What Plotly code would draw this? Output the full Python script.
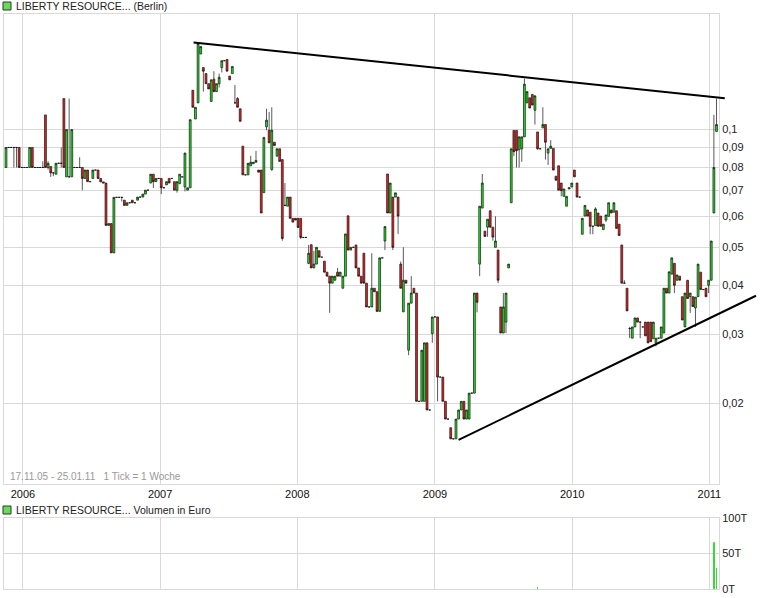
import math
import pandas as pd
import plotly.graph_objects as go

# Weekly candles: (open, close) or (open, close, high, low); one list per calendar year
w2005 = [(.080, .090), (.090, .090), (.090, .090), (.090, .090, .090, .080), (.090, .090, .090, .080),
         (.090, .080), (.080, .080)]
w2006 = [(.080, .080), (.080, .080), (.080, .090), (.090, .080), (.080, .080), (.080, .080), (.080, .080),
         (.080, .080, .083, .080), (.109, .080), (.080, .082, .083, .079), (.0805, .0775, .0805, .0757),
         (.0775, .0775, .0775, .076), (.0769, .082), (.082, .082), (.082, .082, .090, .080), (.120, .080),
         (.0757, .100), (.0757, .0757, .120, .0757), (.0757, .100), (.080, .080), (.080, .080),
         (.080, .080, .085, .080), (.080, .075, .080, .070), (.075, .0788), (.0788, .0736), (.0736, .0736),
         (.075, .0788), (.0788, .0788), (.0788, .075), (.075, .0735), (.0735, .073), (.073, .0569),
         (.0569, .0575), (.0575, .0484), (.0484, .0671), (.0671, .0671), (.0671, .0671),
         (.0671, .0671, .0671, .0655), (.066, .064), (.064, .065), (.065, .065), (.066, .065), (.065, .065),
         (.066, .0672), (.0672, .0672), (.0672, .0684), (.0684, .070), (.070, .070), (.073, .0769),
         (.0769, .0736, .0769, .0709), (.0736, .075), (.075, .075)]
w2007 = [(.075, .071, .075, .0684), (.071, .071), (.0722, .0736), (.075, .073), (.075, .075), (.0736, .070),
         (.070, .0736, .0736, .069), (.0727, .0769), (.0757, .0757), (.0713, .0871, .0871, .0695),
         (.070, .071), (.071, .106), (.126, .114), (.1064, .114), (.117, .166), (.156, .163),
         (.144, .141, .144, .125), (.139, .131), (.131, .127), (.118, .134), (.1345, .125, .141, .125),
         (.125, .131), (.131, .136, .139, .128), (.144, .150, .150, .140), (.150, .150), (.151, .141),
         (.137, .134), (.139, .145), (.117, .117, .130, .117), (.120, .114, .121, .114), (.113, .105),
         (.0907, .0766), (.0766, .0766), (.0766, .082), (.0808, .0825, .0857, .0808), (.0818, .0825),
         (.0825, .0834, .0882, .0825), (.0788, .0778), (.0788, .0612), (.069, .0955),
         (.1016, .1057, .113, .0996), (.0996, .0925, .111, .0925), (.079, .0996, .114, .0785),
         (.0928, .091), (.0855, .0893), (.0893, .0829), (.0838, .0527, .0838, .052),
         (.064, .064, .073, .0637), (.0637, .0672), (.0672, .0593), (.0593, .058), (.0593, .0587)]
w2008 = [(.0593, .0562), (.0593, .053, .0593, .0525), (.053, .053), (.053, .053), (.0455, .0483, .0507, .0453),
         (.0508, .0443), (.0443, .0453, .049, .0443), (.0453, .050), (.049, .0472), (.0472, .0472),
         (.0461, .0432), (.0432, .0422), (.0422, .0405, .0422, .034), (.0405, .0422), (.0412, .0422),
         (.0432, .0422, .0443, .0422), (.0422, .0432), (.0393, .0422), (.0422, .0541), (.0602, .0492),
         (.0492, .050), (.050, .050), (.0507, .0443), (.0443, .0422), (.0422, .0405), (.0483, .0405),
         (.0405, .0352), (.0352, .0352), (.0352, .0393, .0483, .0352), (.0393, .0385), (.0385, .0343),
         (.0343, .047), (.047, .047), (.0519, .0565, .0565, .0492), (.077, .0612), (.0612, .073),
         (.0672, .050, .0672, .0492), (.0672, .0689), (.0672, .0601, .0672, .0541), (.0453, .0393, .046, .0393),
         (.0342, .0412, .050, .0342), (.0412, .0405), (.0273, .036, .036, .0265), (.036, .0382, .0422, .036),
         (.0393, .0382), (.0382, .0202), (.0202, .0202), (.0202, .0273), (.0202, .0285), (.0285, .0192),
         (.0192, .0192), (.0301, .0332, .0332, .0285)]
w2009 = [(.0332, .0332), (.0332, .0233, .0332, .0202), (.0233, .0233), (.0233, .0202), (.0202, .0182),
         (.0182, .0182), (.0173, .0162), (.0162, .0162), (.0162, .0182), (.0182, .0192), (.0192, .0202),
         (.0202, .0182), (.0182, .0192), (.0182, .0212), (.0212, .0212), (.0212, .0382),
         (.0382, .0362, .0382, .0341), (.0453, .0637, .0637, .0422), (.063, .073, .077, .063), (.055, .0533),
         (.0563, .059, .059, .0532), (.062, .0563), (.0563, .0531, .0563, .052), (.050, .0519, .060, .050),
         (.0492, .0412, .0492, .0405), (.0352, .0302), (.0302, .0352, .0382, .0302),
         (.0322, .0382, .0382, .0302), (.0443, .0453), (.065, .0893), (.0995, .0878, .0995, .0855),
         (.0995, .0883, .0995, .080), (.0888, .0958, .0958, .080), (.0893, .0958, .0958, .0827),
         (.0958, .1306, .135, .0958), (.117, .125), (.1205, .1135), (.123, .1155), (.112, .122, .122, .103),
         (.0986, .0893, .0986, .0888), (.0893, .0893), (.101, .103, .114, .101), (.103, .0928, .103, .0838),
         (.0871, .0893, .0893, .0812), (.0895, .0907, .094, .0895), (.0895, .0788), (.076, .0742),
         (.0808, .070), (.073, .0698, .073, .0675), (.0675, .0705), (.0637, .0675), (.0705, .071),
         (.0713, .073)]
w2010 = [(.0788, .0757), (.073, .0672), (.0672, .0672), (.054, .0593), (.0601, .064), (.0623, .0601),
         (.0615, .0566, .0615, .054), (.0566, .0566, .0566, .054), (.0568, .0627, .0633, .0568),
         (.0612, .0566), (.0601, .0566), (.0555, .0573), (.0587, .0605, .0605, .058), (.060, .065),
         (.0623, .0612), (.0615, .065), (.062, .0559), (.0573, .0536), (.0507, .0405),
         (.0405, .0405, .0412, .0405), (.0393, .0344), (.031, .031, .0313, .0293), (.0293, .0313),
         (.0313, .033), (.033, .0322), (.0322, .0322, .0322, .0293), (.0313, .0313), (.0322, .0297),
         (.0322, .0285), (.0322, .0287), (.0292, .0322), (.0285, .0293, .0293, .0279), (.0293, .0293),
         (.0293, .0313), (.0302, .0393), (.0393, .0382), (.0382, .0433), (.0427, .047),
         (.0455, .040, .0455, .0382), (.0412, .0425), (.0422, .0412), (.0374, .0326), (.0313, .0382),
         (.0412, .037), (.0374, .0382, .0382, .034), (.0374, .0353), (.035, .0373, .0373, .0313),
         (.0374, .0453), (.0432, .039), (.039, .039), (.0393, .0374), (.040, .0412, .0412, .0382)]
w2011 = [(.0412, .0519), (.0612, .080, .109, .0612), (.0989, .103, .120, .0989)]

first_week = "2005-11-17"
volume_week_index = [202, 269, 270]
volume_euro = [1500, 66000, 30000]

years = ["2006", "2007", "2008", "2009", "2010", "2011"]
price_ticks = [0.02, 0.03, 0.04, 0.05, 0.06, 0.07, 0.08, 0.09, 0.1]
price_labels = ["0,02", "0,03", "0,04", "0,05", "0,06", "0,07", "0,08", "0,09", "0,1"]
vol_ticks = [0, 50000, 100000]
vol_labels = ["0T", "50T", "100T"]

# trend lines (date, price)
trend_upper = [("2007-03-31", 0.167), ("2011-02-11", 0.1203)]
trend_lower = [("2009-03-05", 0.0161), ("2011-05-05", 0.0376)]

rows = w2005 + w2006 + w2007 + w2008 + w2009 + w2010 + w2011
dates = pd.date_range(first_week, periods=len(rows), freq="7D")
O, H, L, C = [], [], [], []
for r in rows:
    o, c = r[0], r[1]
    h = r[2] if len(r) > 2 else max(o, c)
    l = r[3] if len(r) > 3 else min(o, c)
    O.append(o); C.append(c); H.append(max(h, o, c)); L.append(min(l, o, c))

x_start = pd.Timestamp("2005-11-11 17:00")
x_end = pd.Timestamp("2011-01-26 15:00")
span = (x_end - x_start).total_seconds()

def xpaper(d):
    return (pd.Timestamp(d) - x_start).total_seconds() / span

W, Hh = 760, 598
ML, MR, MT, MB = 4, 41, 14, 9
PW, PH = W - ML - MR, Hh - MT - MB

def px2x(px):
    return (px - ML) / PW

def px2y(py):
    return (Hh - MB - py) / PH

GRID = "#d9d9d9"
FONT = "Liberation Sans, Arial, sans-serif"

fig = go.Figure()
fig.add_trace(go.Candlestick(
    x=dates, open=O, high=H, low=L, close=C, xaxis="x", yaxis="y",
    increasing=dict(line=dict(color="#111", width=0.7), fillcolor="#1ee81e"),
    decreasing=dict(line=dict(color="#111", width=0.7), fillcolor="#f22020"),
    whiskerwidth=0, hoverinfo="skip", showlegend=False))

fig.add_trace(go.Bar(
    x=[dates[i] for i in volume_week_index], y=volume_euro, xaxis="x2", yaxis="y2",
    marker=dict(color="#33dd33", line=dict(width=0)), width=1.1 * 86400000, showlegend=False))

axis_common = dict(showgrid=True, gridcolor=GRID, gridwidth=1, showline=True, linecolor=GRID,
                   linewidth=1, mirror=True, zeroline=False, ticks="")
year_vals = [pd.Timestamp(y + "-01-01") for y in years]

fig.update_layout(
    width=W, height=Hh, margin=dict(l=ML, r=MR, t=MT, b=MB),
    paper_bgcolor="white", plot_bgcolor="white", showlegend=False, hovermode=False,
    boxgap=0.0,
    font=dict(family=FONT, size=11, color="#222"),
    xaxis=dict(domain=[0, 1], anchor="y", type="date", range=[x_start, x_end],
               tickvals=year_vals, ticktext=years, tickfont=dict(size=11, color="#111"),
               rangeslider=dict(visible=False), **axis_common),
    xaxis2=dict(domain=[0, 1], anchor="y2", type="date", range=[x_start, x_end], matches="x",
                tickvals=year_vals, showticklabels=False, rangeslider=dict(visible=False), **axis_common),
    yaxis=dict(domain=[px2y(484), 1], anchor="x", type="log", side="right",
               range=[math.log10(0.01242), math.log10(0.1974)],
               tickvals=price_ticks, ticktext=price_labels, tickfont=dict(size=11, color="#222"),
               **axis_common),
    yaxis2=dict(domain=[0, px2y(518)], anchor="x2", side="right", range=[0, 100000],
                tickvals=vol_ticks, ticktext=vol_labels, tickfont=dict(size=11, color="#222"),
                **axis_common),
)

shapes = []
for (d0, p0), (d1, p1) in [trend_upper, trend_lower]:
    shapes.append(dict(type="line", xref="paper", yref="y", x0=xpaper(d0), y0=p0, x1=xpaper(d1), y1=p1,
                       line=dict(color="black", width=2), layer="above"))
for sq_y in (6, 510):
    shapes.append(dict(type="rect", xref="paper", yref="paper",
                       x0=px2x(3), x1=px2x(11), y0=px2y(sq_y + 4), y1=px2y(sq_y - 4),
                       fillcolor="#66dd55", line=dict(color="#333", width=1)))
fig.update_layout(shapes=shapes)

fig.add_annotation(x=px2x(14), y=px2y(6), xref="paper", yref="paper", xanchor="left", yanchor="middle",
                   text="LIBERTY RESOURCE... (Berlin)", showarrow=False, font=dict(size=10.5, color="#222"))
fig.add_annotation(x=px2x(14), y=px2y(510), xref="paper", yref="paper", xanchor="left", yanchor="middle",
                   text="LIBERTY RESOURCE... Volumen in Euro", showarrow=False,
                   font=dict(size=10.5, color="#222"))
fig.add_annotation(x=px2x(8), y=px2y(476), xref="paper", yref="paper", xanchor="left", yanchor="middle",
                   text="17.11.05 - 25.01.11   1 Tick = 1 Woche", showarrow=False,
                   font=dict(size=10, color="#999"))

fig.write_html("out.html", config={"displayModeBar": False},
               post_script="document.body.style.margin='0px';")
